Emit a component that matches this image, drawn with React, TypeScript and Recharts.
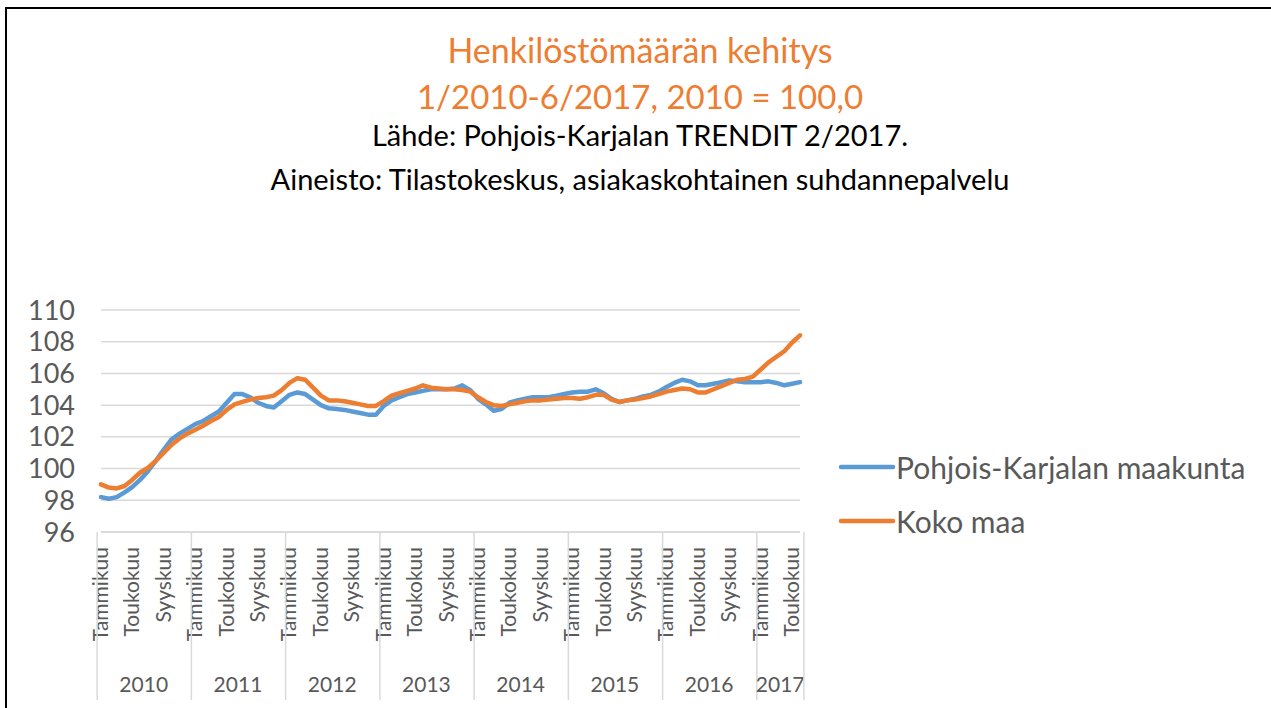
import React from 'react';
import {
  ComposedChart,
  Line,
  XAxis,
  YAxis,
  CartesianGrid,
} from 'recharts';

const MONTHS = [
  'Tammikuu', 'Helmikuu', 'Maaliskuu', 'Huhtikuu', 'Toukokuu', 'Kesäkuu',
  'Heinäkuu', 'Elokuu', 'Syyskuu', 'Lokakuu', 'Marraskuu', 'Joulukuu',
];
const SHOWN_MONTHS = ['Tammikuu', 'Toukokuu', 'Syyskuu'];
const YEARS = [2010, 2011, 2012, 2013, 2014, 2015, 2016, 2017];
const MONTHS_PER_YEAR = [12, 12, 12, 12, 12, 12, 12, 6];
const Y_TICKS = [96, 98, 100, 102, 104, 106, 108, 110];

// Pohjois-Karjalan maakunta, 1/2010-6/2017
const PK = [
  98.2, 98.1, 98.2, 98.5, 98.85, 99.3, 99.85, 100.5, 101.2, 101.85, 102.2, 102.5,
  102.8, 103.0, 103.3, 103.6, 104.15, 104.7, 104.7, 104.5, 104.15, 103.95, 103.85, 104.25,
  104.65, 104.8, 104.7, 104.35, 104.0, 103.8, 103.75, 103.7, 103.6, 103.5, 103.4, 103.4,
  103.95, 104.3, 104.5, 104.7, 104.8, 104.9, 105.0, 105.0, 105.0, 105.05, 105.25, 104.95,
  104.4, 104.05, 103.65, 103.75, 104.15, 104.3, 104.4, 104.5, 104.5, 104.5, 104.6, 104.7,
  104.8, 104.85, 104.85, 105.0, 104.75, 104.4, 104.2, 104.3, 104.4, 104.55, 104.65, 104.85,
  105.15, 105.4, 105.6, 105.5, 105.25, 105.25, 105.35, 105.45, 105.55, 105.5, 105.45, 105.45,
  105.45, 105.5, 105.4, 105.25, 105.35, 105.45,
];

// Koko maa, 1/2010-6/2017
const KOKO = [
  99.0, 98.8, 98.75, 98.9, 99.3, 99.75, 100.05, 100.5, 101.0, 101.5, 101.9, 102.2,
  102.45, 102.7, 103.0, 103.25, 103.7, 104.05, 104.2, 104.35, 104.45, 104.5, 104.6, 104.95,
  105.4, 105.7, 105.6, 105.1, 104.6, 104.3, 104.3, 104.25, 104.15, 104.05, 103.95, 103.95,
  104.25, 104.6, 104.75, 104.9, 105.05, 105.25, 105.1, 105.05, 105.0, 105.0, 104.95, 104.85,
  104.5, 104.2, 104.0, 103.95, 104.05, 104.15, 104.25, 104.3, 104.3, 104.35, 104.4, 104.45,
  104.45, 104.4, 104.5, 104.65, 104.65, 104.35, 104.2, 104.3, 104.35, 104.45, 104.55, 104.7,
  104.85, 104.95, 105.05, 105.0, 104.8, 104.8, 105.0, 105.2, 105.4, 105.6, 105.65, 105.8,
  106.25, 106.7, 107.05, 107.4, 107.95, 108.4,
];

const SERIES = [
  { key: 'pk', name: 'Pohjois-Karjalan maakunta', color: '#5B9BD5' },
  { key: 'koko', name: 'Koko maa', color: '#ED7D31' },
];

const ORANGE = '#ED7D31';
const GRID = '#d9d9d9';
const TEXT = '#595959';
const FONT = 'Lato, "Open Sans", sans-serif';

const W = 1271;
const H = 708;
const Y_AXIS_W = 101;
const X_AXIS_H = 176;
const MARGIN = { top: 310, right: 471, bottom: 0, left: 0 };
const PLOT_W = W - Y_AXIS_W - MARGIN.right;

const rows: any[] = [];
YEARS.forEach((year, yi) => {
  for (let m = 0; m < MONTHS_PER_YEAR[yi]; m++) {
    const i = rows.length;
    rows.push({ key: `${year}-${m + 1}`, month: MONTHS[m], year, yi, m, pk: PK[i], koko: KOKO[i] });
  }
});
const BAND = PLOT_W / rows.length;

const MonthTick = (props: any) => {
  const { x, y, payload } = props;
  const idx = payload?.index ?? props.index;
  const row = rows[idx];
  if (!row) return <g />;
  const left = x - BAND / 2;
  return (
    <g>
      {SHOWN_MONTHS.includes(row.month) && (
        <text
          x={0}
          y={0}
          transform={`translate(${x + 7},${y + 15}) rotate(-90)`}
          textAnchor="end"
          fontSize={21}
          fill={TEXT}
          fontFamily={FONT}
        >
          {row.month}
        </text>
      )}
      {row.m === 0 && (
        <>
          <line x1={left} x2={left} y1={y} y2={y + 168} stroke={GRID} strokeWidth={1.5} />
          <text
            x={left + (MONTHS_PER_YEAR[row.yi] * BAND) / 2}
            y={y + 160}
            textAnchor="middle"
            fontSize={21}
            fill={TEXT}
            fontFamily={FONT}
          >
            {row.year}
          </text>
        </>
      )}
      {idx === rows.length - 1 && (
        <line x1={x + BAND / 2} x2={x + BAND / 2} y1={y} y2={y + 168} stroke={GRID} strokeWidth={1.5} />
      )}
    </g>
  );
};

const LegendBox = () => (
  <div style={{ position: 'absolute', left: 838, top: 440, fontFamily: FONT, fontSize: 30, color: TEXT }}>
    {SERIES.map((s) => (
      <div key={s.name} style={{ display: 'flex', alignItems: 'center', height: 54 }}>
        <svg width={58} height={10}>
          <line x1={3} x2={55} y1={5} y2={5} stroke={s.color} strokeWidth={4.5} strokeLinecap="round" />
        </svg>
        <span style={{ whiteSpace: 'nowrap' }}>{s.name}</span>
      </div>
    ))}
  </div>
);

const titleStyle: React.CSSProperties = {
  position: 'absolute',
  left: 0,
  width: 1280,
  textAlign: 'center',
  fontFamily: FONT,
  whiteSpace: 'nowrap',
  lineHeight: 1,
};

export default function App() {
  return (
    <div style={{ position: 'absolute', left: 0, top: 0, width: W, height: H, background: '#fff', overflow: 'hidden' }}>
      <div style={{ position: 'absolute', left: 5, top: 7, width: W, height: H, borderLeft: '2px solid #000', borderTop: '2px solid #000' }} />
      <div style={{ ...titleStyle, top: 33, fontSize: 34, color: ORANGE }}>Henkilöstömäärän kehitys</div>
      <div style={{ ...titleStyle, top: 80, fontSize: 33, color: ORANGE }}>1/2010-6/2017, 2010 = 100,0</div>
      <div style={{ ...titleStyle, top: 120, fontSize: 29, color: '#000' }}>Lähde: Pohjois-Karjalan TRENDIT 2/2017.</div>
      <div style={{ ...titleStyle, top: 164, fontSize: 29, color: '#000' }}>Aineisto: Tilastokeskus, asiakaskohtainen suhdannepalvelu</div>
      <div style={{ position: 'absolute', left: 0, top: 0 }}>
        <ComposedChart width={W} height={H} data={rows} margin={MARGIN}>
          <CartesianGrid horizontal vertical={false} stroke={GRID} strokeWidth={1.5} />
          <XAxis
            dataKey="key"
            interval={0}
            height={X_AXIS_H}
            tickSize={0}
            tickMargin={0}
            tickLine={false}
            axisLine={{ stroke: GRID, strokeWidth: 1.5 }}
            tick={<MonthTick />}
          />
          <YAxis
            width={Y_AXIS_W}
            domain={[96, 110]}
            ticks={Y_TICKS}
            interval={0}
            allowDataOverflow
            axisLine={false}
            tickLine={false}
            tickSize={0}
            tickMargin={26}
            tick={{ fontSize: 27, fill: TEXT, fontFamily: FONT }}
          />
          {SERIES.map((s) => (
            <Line
              key={s.key}
              dataKey={s.key}
              name={s.name}
              stroke={s.color}
              strokeWidth={4.5}
              strokeLinejoin="round"
              strokeLinecap="round"
              dot={false}
              activeDot={false}
              isAnimationActive={false}
            />
          ))}
        </ComposedChart>
      </div>
      <LegendBox />
    </div>
  );
}
